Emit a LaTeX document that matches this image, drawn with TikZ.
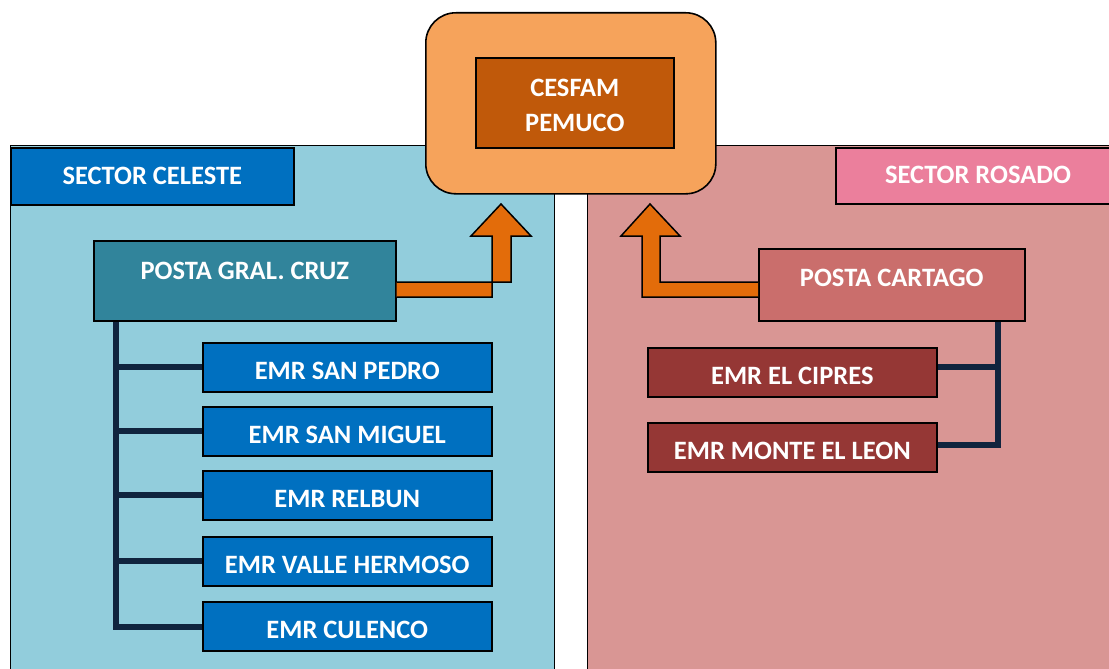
\documentclass[tikz,border=0pt]{standalone}
\usepackage{fontspec}
\setmainfont{Carlito}
\definecolor{celeste}{HTML}{92CDDC}
\definecolor{azul}{HTML}{0070C0}
\definecolor{teal}{HTML}{31849B}
\definecolor{rosa}{HTML}{D99694}
\definecolor{rosahead}{HTML}{EB7F9C}
\definecolor{cartago}{HTML}{CA6E6C}
\definecolor{granate}{HTML}{953735}
\definecolor{naranjaclaro}{HTML}{F6A35B}
\definecolor{naranjaosc}{HTML}{C0590A}
\definecolor{flecha}{HTML}{E36C0A}
\definecolor{marino}{HTML}{10243E}
\tikzset{
  lbl/.style={text=white, font=\fontsize{26.5}{35}\selectfont\bfseries, align=center, inner sep=0pt},
  box/.style={lbl, draw=black, line width=1.6pt, rectangle, anchor=north west},
  emr/.style={box, minimum width=289pt, minimum height=49pt, text height=24pt, text depth=0pt},
  panel/.style={draw=black, line width=1.2pt},
  conn/.style={draw=marino, line width=6pt, line join=miter, line cap=butt},
  arrowshape/.style={fill=flecha, draw=black, line width=1.5pt, line join=miter},
}
\begin{document}
\begin{tikzpicture}[x=1pt,y=-1pt]
\clip (0,0) rectangle (1109,669);
\fill[white] (0,0) rectangle (1109,669);
% panels
\node[panel, fill=celeste, rectangle, anchor=north west, minimum width=544pt, minimum height=560pt, inner sep=0pt] (pl) at (10,145) {};
\node[panel, fill=rosa, rectangle, anchor=north west, minimum width=560pt, minimum height=560pt, inner sep=0pt] (pr) at (587,145) {};
% headers
\node[box, fill=azul, minimum width=283pt, minimum height=57pt] (hc) at (10,147) {SECTOR CELESTE};
\node[box, fill=rosahead, minimum width=300pt, minimum height=56pt] (hr) at (835,147) {};
\node[lbl] (hrt) at (978,175) {SECTOR ROSADO};
% cesfam
\node[draw=black, line width=1.6pt, fill=naranjaclaro, rounded corners=30pt, anchor=north west, minimum width=290pt, minimum height=181pt, inner sep=0pt] (cout) at (425,12) {};
\node[box, fill=naranjaosc, minimum width=198pt, minimum height=90pt] (ces) at (475,57) {};
\node[lbl] (cest) at ([yshift=-3pt]ces.center) {CESFAM\\PEMUCO};
% postas
\node[box, fill=teal, minimum width=302pt, minimum height=80pt] (pg) at (93,240) {};
\node[lbl] (pgt) at ([yshift=10pt]pg.center) {POSTA GRAL. CRUZ};
\node[box, fill=cartago, minimum width=266pt, minimum height=72pt] (pc) at (758,248) {};
\node[lbl] (pct) at ([yshift=7pt]pc.center) {POSTA CARTAGO};
% arrows
\filldraw[arrowshape] (pg.east |- 0,282) -- (511,282) -- (511,236) -- (531,236) -- (501,204) -- (471,236) -- (492,236) -- (492,297) -- (pg.east |- 0,297);
\filldraw[arrowshape] (pc.west |- 0,282) -- (660,282) -- (660,236) -- (680,236) -- (650,204) -- (621,236) -- (642,236) -- (642,297) -- (pc.west |- 0,297);
% left EMR boxes
\node[emr, fill=azul] (sp) at (202,342) {EMR SAN PEDRO};
\node[emr, fill=azul] (sm) at (202,406) {EMR SAN MIGUEL};
\node[emr, fill=azul] (re) at (202,470) {EMR RELBUN};
\node[emr, fill=azul] (vh) at (202,536) {EMR VALLE HERMOSO};
\node[emr, fill=azul] (cu) at (202,601) {EMR CULENCO};
% right EMR boxes
\node[emr, fill=granate] (ci) at (647,347) {EMR EL CIPRES};
\node[emr, fill=granate] (ml) at (647,422) {EMR MONTE EL LEON};
% connectors left
\coordinate (tl) at ([xshift=23pt]pg.south west);
\draw[conn] (tl) |- ([yshift=-26pt]cu.north west);
\foreach \n in {sp,sm,re,vh} \draw[conn] (\n.west) -- (\n.west -| tl);
% connectors right
\coordinate (tr) at ([xshift=-28pt]pc.south east);
\draw[conn] (tr) |- ([yshift=-23pt]ml.north east);
\draw[conn] ([yshift=-20pt]ci.north east) -- ([yshift=-20pt]ci.north east -| tr);
\end{tikzpicture}
\end{document}
